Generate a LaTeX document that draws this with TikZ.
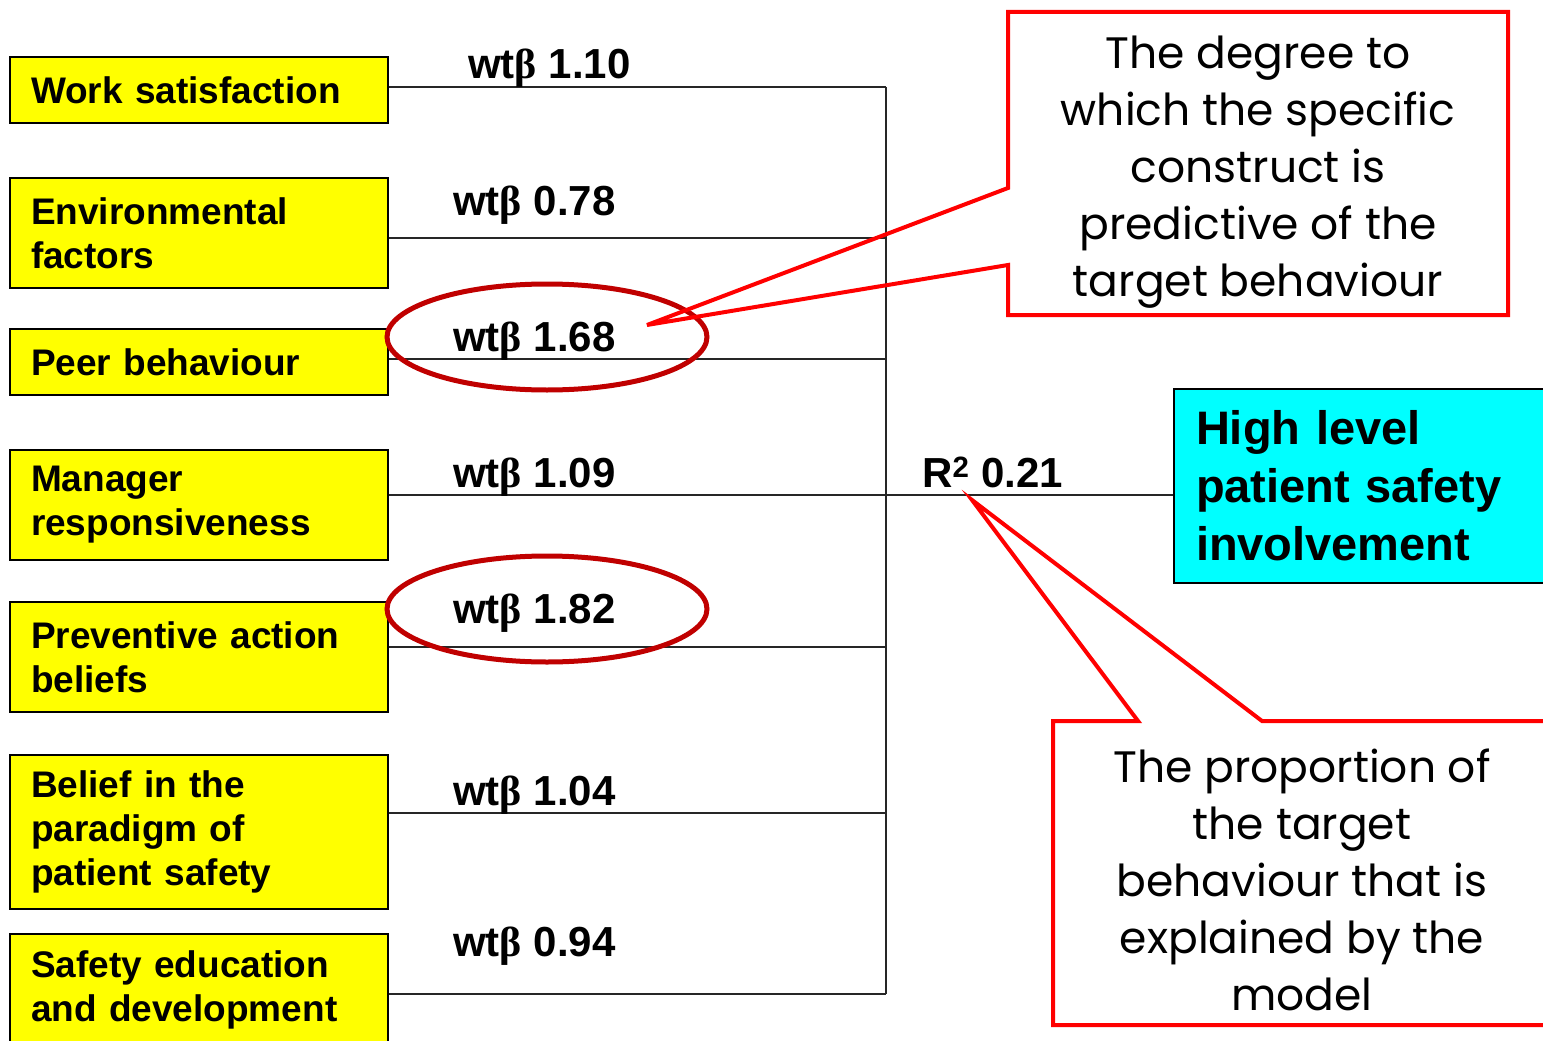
\documentclass[tikz,border=0pt]{standalone}
\usepackage{fontspec}
\setmainfont{Liberation Sans}
\newfontfamily\notefont{Poppins}
\newfontfamily\greekfont{Liberation Serif}
\usetikzlibrary{shapes.geometric}

\definecolor{boxyellow}{HTML}{FFFF00}
\definecolor{outcyan}{HTML}{00FFFF}
\definecolor{callred}{HTML}{FF0000}
\definecolor{ringred}{HTML}{C00000}

\newcommand{\wtb}{wt{\greekfont β}}

\tikzset{
  factor/.style={draw, line width=2pt, fill=boxyellow, text width=336pt, inner xsep=21pt,
    inner ysep=0pt, align=left, font=\bfseries\fontsize{37}{44}\selectfont},
  weight/.style={anchor=base west, inner sep=0pt, font=\bfseries\fontsize{42}{48}\selectfont},
  link/.style={line width=1.5pt, draw=black!85},
  ring/.style={ellipse, draw=ringred, line width=5pt, minimum width=320pt, minimum height=106pt},
  callout/.style={draw=callred, line width=4pt, line join=miter},
  note/.style={align=center, inner sep=0pt, font=\notefont\fontsize{44}{57}\selectfont}
}

\begin{document}
\begin{tikzpicture}[x=1pt, y=-1pt]
\useasboundingbox (0,0) rectangle (1543,1041);
\fill[white] (0,0) rectangle (1543,1041);

% predictors
\node[factor, minimum height=66pt] (ws) at (199,90) {Work satisfaction};
\node[factor, minimum height=110pt] (env) at (199,233) {Environmental\\factors};
\node[factor, minimum height=66pt] (peer) at (199,362) {Peer behaviour};
\node[factor, minimum height=110pt] (mgr) at (199,505) {Manager\\responsiveness};
\node[factor, minimum height=110pt] (prev) at (199,657) {Preventive action\\beliefs};
\node[factor, minimum height=154pt] (belief) at (199,832) {Belief in the\\paradigm of\\patient safety};
\node[factor, minimum height=112pt] (edu) at (199,990) {Safety education\\and development};

% outcome
\node[draw, line width=2pt, fill=outcyan, text width=346pt, inner xsep=22pt, inner ysep=0pt,
  minimum height=194pt, align=left, font=\bfseries\fontsize{47}{58}\selectfont]
  (psi) at (1369,486) {High level\\patient safety\\involvement};

\foreach \name/\y in {j1/87, j2/238, j3/359, j4/495, j5/647, j6/813, j7/994}
    \coordinate (\name) at (886,\y);

\draw[link] (j1) -- (j7);
\foreach \src/\j in {ws/j1, env/j2, peer/j3, mgr/j4, prev/j5, belief/j6, edu/j7}
    \draw[link] (\src.east |- \j) -- (\j);
\draw[link] (j4) -- (psi.west |- j4);

% weights
\node[weight] (w1) at (468,79) {\wtb{} 1.10};
\node[weight] (w2) at (453,215) {\wtb{} 0.78};
\node[weight] (w3) at (453,351) {\wtb{} 1.68};
\node[weight] (w4) at (453,487) {\wtb{} 1.09};
\node[weight] (w5) at (453,623) {\wtb{} 1.82};
\node[weight] (w6) at (453,805) {\wtb{} 1.04};
\node[weight] (w7) at (453,956) {\wtb{} 0.94};
\node[weight] (rsq) at (922,487) {R\textsuperscript{2} 0.21};

\node[ring] (ring1) at (547,337) {};
\node[ring] (ring2) at (547,609) {};

% callouts
\coordinate (tipA) at (647,325);
\coordinate (tipB) at (972,500);
\draw[callout] (1008,188) -- (1008,12) -- (1508,12) -- (1508,315) -- (1008,315)
    -- (1008,265) -- (tipA) -- cycle;
\node[note] (noteA) at (1258,172) {The degree to\\which the specific\\construct is\\predictive of the\\target behaviour};

\draw[callout] (1053,721) -- (1138,721) -- (tipB) -- (1262,721) -- (1560,721)
    -- (1560,1025) -- (1053,1025) -- cycle;
\node[note] (noteB) at (1302,880) {The proportion of\\the target\\behaviour that is\\explained by the\\model};

\end{tikzpicture}
\end{document}
